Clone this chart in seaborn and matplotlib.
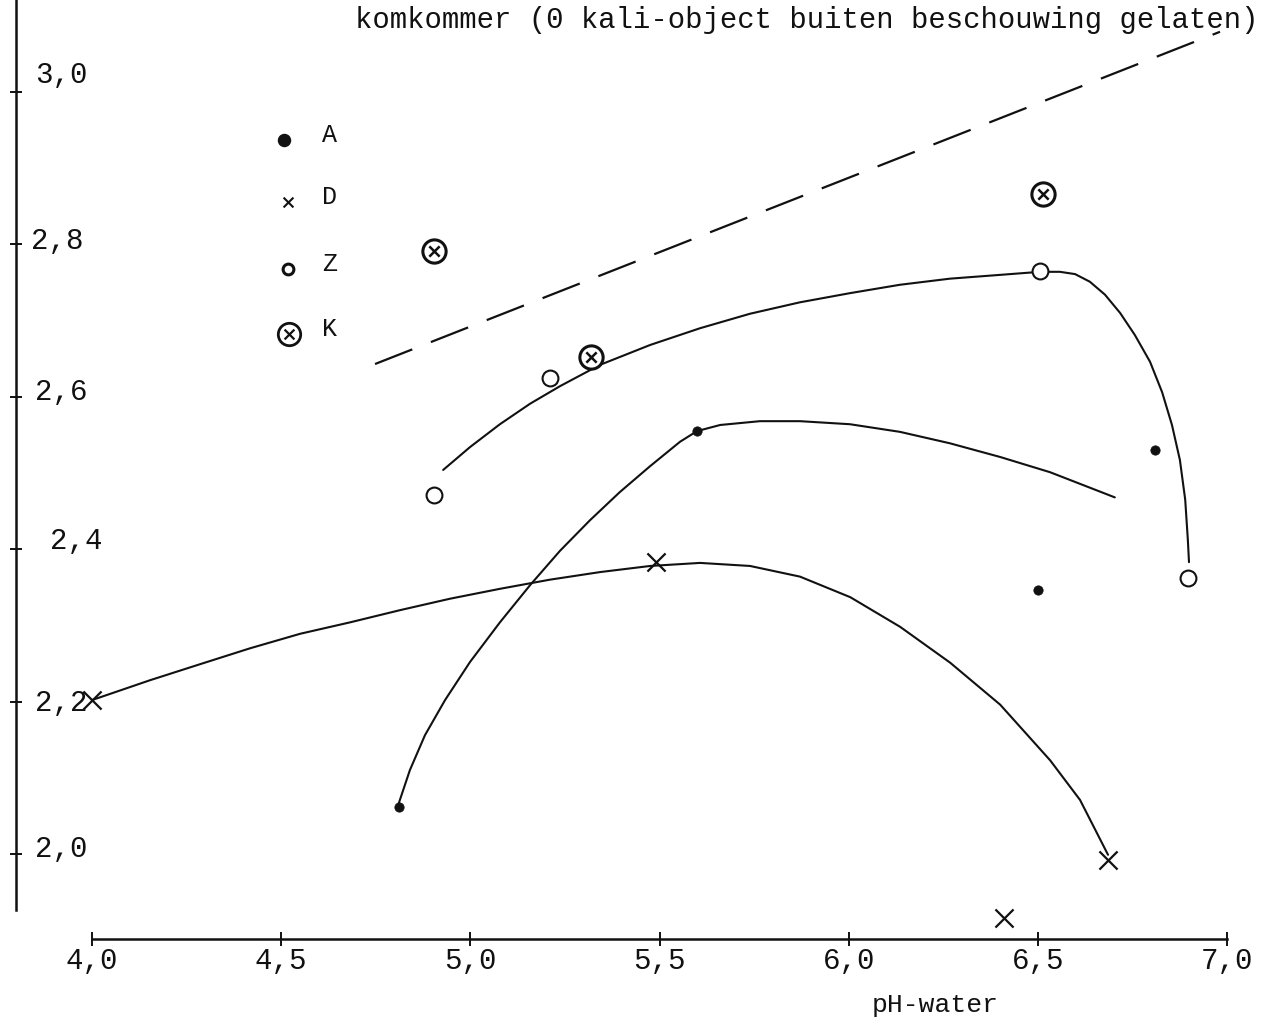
import matplotlib
matplotlib.use("Agg")
import matplotlib.pyplot as plt
import seaborn as sns

# ---------------- data ----------------
title = "komkommer (0 kali-object buiten beschouwing gelaten)"
xlabel = "pH-water"
x_ticks = [4.0, 4.5, 5.0, 5.5, 6.0, 6.5, 7.0]
x_tick_labels = ["4,0", "4,5", "5,0", "5,5", "6,0", "6,5", "7,0"]
y_ticks = [3.0, 2.8, 2.6, 2.4, 2.2, 2.0]
y_tick_labels = ["3,0", "2,8", "2,6", "2,4", "2,2", "2,0"]

# measured points
A_ph = [4.81, 5.60, 6.81, 6.50]
A_val = [2.062, 2.555, 2.530, 2.346]
D_ph = [4.00, 5.49, 6.685, 6.41]
D_val = [2.202, 2.383, 1.992, 1.916]
Z_ph = [4.905, 5.21, 6.505, 6.896]
Z_val = [2.471, 2.625, 2.765, 2.362]
K_ph = [4.905, 5.32, 6.513]
K_val = [2.791, 2.652, 2.866]

# hand-drawn trend curves
Zc_ph = [4.928, 4.999, 5.078, 5.158, 5.237, 5.343, 5.475, 5.607, 5.739, 5.871,
         6.003, 6.135, 6.267, 6.400, 6.505, 6.558, 6.598, 6.637, 6.677, 6.717,
         6.756, 6.796, 6.828, 6.854, 6.875, 6.889, 6.896, 6.899]
Zc_val = [2.504, 2.534, 2.564, 2.591, 2.614, 2.642, 2.668, 2.690, 2.709, 2.724,
          2.736, 2.747, 2.755, 2.760, 2.764, 2.764, 2.761, 2.751, 2.734, 2.710,
          2.681, 2.646, 2.606, 2.563, 2.517, 2.465, 2.412, 2.383]
Ac_ph = [4.809, 4.840, 4.880, 4.933, 4.999, 5.078, 5.158, 5.237, 5.316, 5.395,
         5.475, 5.554, 5.599, 5.660, 5.765, 5.871, 6.003, 6.135, 6.267, 6.400,
         6.532, 6.703]
Ac_val = [2.064, 2.110, 2.156, 2.202, 2.252, 2.304, 2.353, 2.398, 2.438, 2.475,
          2.509, 2.541, 2.555, 2.563, 2.568, 2.568, 2.564, 2.554, 2.539, 2.521,
          2.501, 2.468]
Dc_ph = [4.000, 4.153, 4.285, 4.418, 4.550, 4.682, 4.814, 4.946, 5.078, 5.210,
         5.343, 5.475, 5.607, 5.739, 5.871, 6.004, 6.136, 6.268, 6.400, 6.532,
         6.611, 6.685]
Dc_val = [2.202, 2.228, 2.249, 2.270, 2.289, 2.304, 2.320, 2.335, 2.348, 2.360,
          2.370, 2.378, 2.382, 2.378, 2.364, 2.337, 2.298, 2.251, 2.196, 2.123,
          2.071, 1.999]
# dashed reference line
ref_ph = [4.748, 6.981]
ref_val = [2.643, 3.079]

legend_labels = ["A", "D", "Z", "K"]

# ---------------- style ----------------
sns.set_style("white")
MONO = ["Liberation Mono", "DejaVu Sans Mono"]
plt.rcParams["font.family"] = MONO

W, H = 1266, 1018
fig = plt.figure(figsize=(W / 100, H / 100), dpi=100)
ax = fig.add_axes([0, 0, 1, 1])
ax.set_xlim(3.7569, 7.1025)
ax.set_ylim(1.7848, 3.1207)

ink = "#111111"

# curves
for cx, cy in [(Zc_ph, Zc_val), (Ac_ph, Ac_val), (Dc_ph, Dc_val)]:
    sns.lineplot(x=cx, y=cy, ax=ax, sort=False, estimator=None,
                 color=ink, linewidth=1.5)
sns.lineplot(x=ref_ph, y=ref_val, ax=ax, sort=False, estimator=None,
             color=ink, linewidth=1.6, linestyle=(0, (18, 9)))

# points
sns.scatterplot(x=A_ph, y=A_val, ax=ax, marker="o", s=45, color=ink,
                edgecolor=ink, zorder=5)
sns.scatterplot(x=D_ph, y=D_val, ax=ax, marker="x", s=170, color=ink,
                linewidth=1.6, zorder=5)
sns.scatterplot(x=Z_ph, y=Z_val, ax=ax, marker="o", s=130, facecolor="white",
                edgecolor=ink, linewidth=1.5, zorder=5)
sns.scatterplot(x=K_ph, y=K_val, ax=ax, marker="o", s=280, facecolor="white",
                edgecolor=ink, linewidth=2.2, zorder=5)
sns.scatterplot(x=K_ph, y=K_val, ax=ax, marker="x", s=55, color=ink,
                linewidth=1.8, zorder=6)

# legend (hand-made key, as on the original sheet)
lx, tx = 0.2245, 0.2600
ly = [1 - 140 / H, 1 - 202 / H, 1 - 269 / H, 1 - 334 / H]
ax.scatter([lx], [ly[0]], transform=ax.transAxes, marker="o", s=75, color=ink, zorder=6)
ax.scatter([lx + 0.003], [ly[1]], transform=ax.transAxes, marker="x", s=50,
           color=ink, linewidths=1.5, zorder=6)
ax.scatter([lx + 0.003], [ly[2]], transform=ax.transAxes, marker="o", s=60,
           facecolor="white", edgecolor=ink, linewidths=2.2, zorder=6)
ax.scatter([lx + 0.004], [ly[3]], transform=ax.transAxes, marker="o", s=260,
           facecolor="white", edgecolor=ink, linewidths=2.0, zorder=6)
ax.scatter([lx + 0.004], [ly[3]], transform=ax.transAxes, marker="x", s=50,
           color=ink, linewidths=1.6, zorder=7)
for lab, yy in zip(legend_labels, ly):
    ax.text(tx, yy + 0.005, lab, transform=ax.transAxes, ha="center",
            va="center", fontsize=18, family=MONO, color=ink)

# axes drawn inside the figure like the hand-drawn axes
for s in ["top", "right"]:
    ax.spines[s].set_visible(False)
ax.spines["left"].set_position(("data", 3.799))
ax.spines["left"].set_bounds(1.926, 3.1207)
ax.spines["bottom"].set_position(("data", 1.8885))
ax.spines["bottom"].set_bounds(4.0, 7.0)
for s in ["left", "bottom"]:
    ax.spines[s].set_color(ink)
    ax.spines[s].set_linewidth(1.8)

ax.set_xticks(x_ticks, x_tick_labels)
ax.set_yticks(y_ticks)
ax.tick_params(axis="x", bottom=True, direction="inout", length=10, width=1.4,
               pad=1.0, labelsize=21, colors=ink)
ax.tick_params(axis="y", left=True, direction="inout", length=9, width=1.4,
               labelleft=False, colors=ink)
ax.grid(False)

# y tick labels sit to the right of the axis, as written on the sheet
ylab_left_px = [35, 31, 35, 50, 35, 35]
ylab_y_px = [75, 241, 392, 541, 703, 849]
for lab, xp, yp in zip(y_tick_labels, ylab_left_px, ylab_y_px):
    fig.text(xp / W, 1 - yp / H, lab, ha="left", va="center", fontsize=21,
             family=MONO, color=ink)

ax.set_xlabel("")
ax.set_ylabel("")
fig.text(935 / W, 1 - 1005 / H, xlabel, ha="center", va="center",
         fontsize=19, family=MONO, color=ink)
fig.text(355 / W, 1 - 20 / H, title, ha="left", va="center",
         fontsize=20.8, family=MONO, color=ink)

fig.savefig("out.png", dpi=100)
